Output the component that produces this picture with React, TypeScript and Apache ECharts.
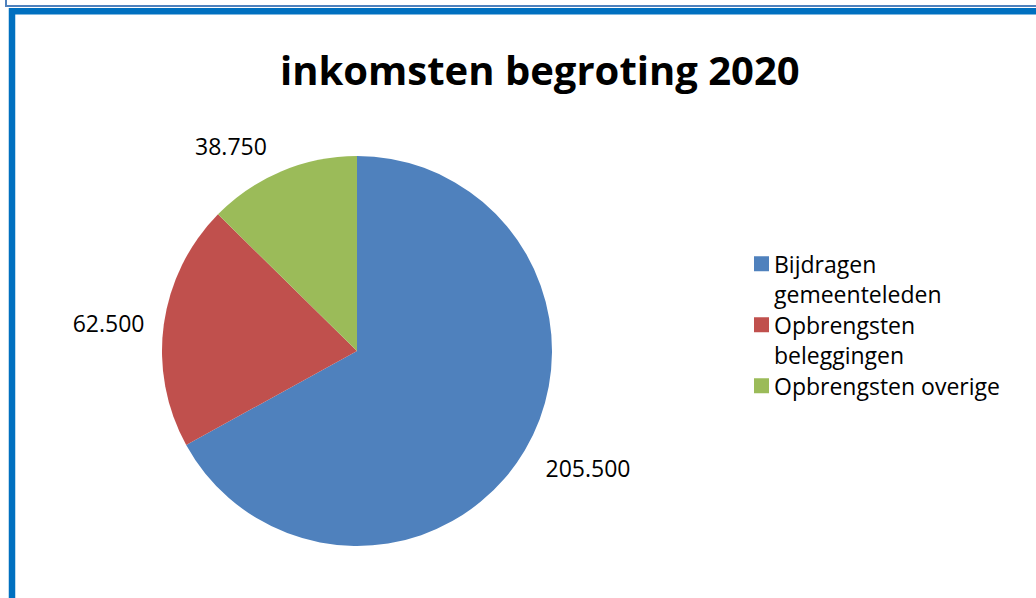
import React, { useEffect, useRef } from 'react';
import * as echarts from 'echarts';

// ---- data ----
const categories = ['Bijdragen gemeenteleden', 'Opbrengsten beleggingen', 'Opbrengsten overige'];
const values = [205500, 62500, 38750];
const titleText = 'inkomsten begroting 2020';

// ---- style / layout ----
const colors = ['#4F81BD', '#C0504D', '#9BBB59'];
const CENTER = [357, 351];
const RADIUS = 195;
const LABEL_RADIUS = [259, 250, 241];
const LABEL_ANGLE_SHIFT = [-3.7, -1.5, -8.8];
const FONT = '"Open Sans", "DejaVu Sans", sans-serif';
const LINE_H = 30.5;
const LEGEND_LEFT = 754;
const LEGEND_TOP = 248.5;

const fmt = (v: number) => String(v).replace(/\B(?=(\d{3})+(?!\d))/g, '.');

export default function App() {
  const ref = useRef<HTMLDivElement>(null);
  useEffect(() => {
    const chart = echarts.init(ref.current!, null, { renderer: 'svg' });
    const total = values.reduce((a, b) => a + b, 0);
    const mids: number[] = [];
    let acc = 0;
    values.forEach((v) => {
      mids.push(((acc + v / 2) / total) * 360);
      acc += v;
    });
    const iconPath = `path://M0,0M0,${(LINE_H - 15) / 2}h15v15h-15zM15,${LINE_H * 2}`;
    const legendText = {
      fontFamily: FONT,
      fontSize: 23,
      color: '#000',
      lineHeight: LINE_H,
      width: 240,
      overflow: 'break',
    };
    chart.setOption({
      animation: false,
      backgroundColor: '#ffffff',
      title: {
        text: titleText,
        left: 280,
        top: 49,
        padding: 0,
        textStyle: { fontFamily: FONT, fontWeight: 'bold', fontSize: 40, color: '#000' },
      },
      legend: [
        {
          orient: 'vertical',
          left: LEGEND_LEFT,
          top: LEGEND_TOP,
          padding: 0,
          itemGap: 0,
          itemWidth: 15,
          itemHeight: LINE_H * 2,
          icon: iconPath,
          selectedMode: false,
          textStyle: legendText,
          data: categories.slice(0, 2),
        },
        {
          orient: 'vertical',
          left: LEGEND_LEFT,
          top: LEGEND_TOP + LINE_H * 4,
          padding: 0,
          itemGap: 0,
          itemWidth: 15,
          itemHeight: 15,
          icon: 'rect',
          selectedMode: false,
          textStyle: legendText,
          data: categories.slice(2),
        },
      ],
      graphic: [
        {
          type: 'polyline',
          shape: { points: [[6, -2], [6, 6], [1040, 6]] },
          style: { stroke: '#4F81BD', lineWidth: 2, fill: 'none' },
          silent: true,
        },
        {
          type: 'rect',
          shape: { x: 12, y: 11.3, width: 1100, height: 700 },
          style: { stroke: '#0070C0', lineWidth: 6.5, fill: 'none' },
          silent: true,
        },
      ],
      series: [
        {
          type: 'pie',
          center: CENTER,
          radius: RADIUS,
          startAngle: 90,
          clockwise: true,
          avoidLabelOverlap: false,
          silent: true,
          emphasis: { disabled: true },
          color: colors,
          itemStyle: { borderWidth: 0 },
          label: {
            show: true,
            position: 'outside',
            formatter: (p: any) => fmt(p.value),
            fontFamily: FONT,
            fontSize: 23,
            color: '#000',
          },
          labelLine: { show: false },
          labelLayout: (p: any) => {
            const i = p.dataIndex;
            const a = ((mids[i] + LABEL_ANGLE_SHIFT[i]) * Math.PI) / 180;
            return {
              x: CENTER[0] + LABEL_RADIUS[i] * Math.sin(a),
              y: CENTER[1] - LABEL_RADIUS[i] * Math.cos(a),
              align: 'center',
              verticalAlign: 'middle',
            };
          },
          data: categories.map((name, i) => ({ name, value: values[i] })),
        },
      ],
    });
    return () => chart.dispose();
  }, []);
  return (
    <div
      ref={ref}
      style={{ position: 'fixed', left: 0, top: 0, width: 1036, height: 598, background: '#fff' }}
    />
  );
}
